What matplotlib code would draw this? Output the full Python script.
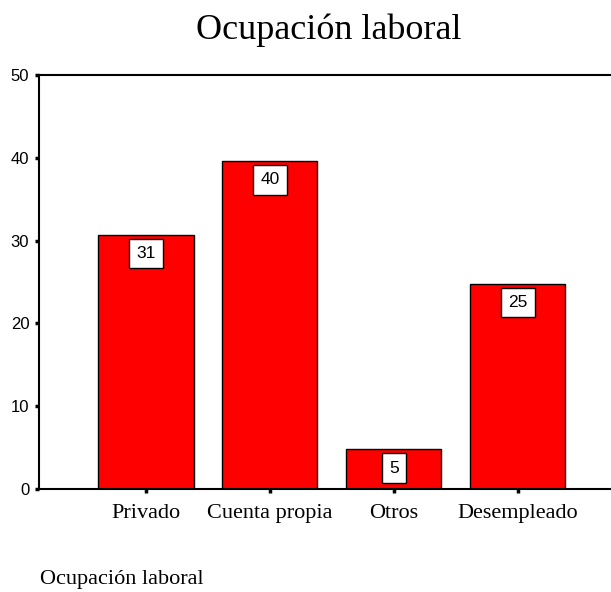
import numpy as np
import matplotlib.pyplot as plt

categorias = ['Privado', 'Cuenta propia', 'Otros', 'Desempleado']
porcentajes = [30.7, 39.6, 4.8, 24.8]
etiquetas = ['31', '40', '5', '25']

fig = plt.figure(figsize=(6.11, 5.92), dpi=100)
ax = fig.add_axes([39/611, 103/592, 1 - 39/611, (489 - 75)/592])

x = np.arange(len(categorias))
bars = ax.bar(x, porcentajes, width=0.77, color='#ff0000', edgecolor='black', linewidth=1.0)

for xi, v, lab in zip(x, porcentajes, etiquetas):
    ax.annotate(lab, (xi, v), xytext=(0, -13.5), textcoords='offset points',
                ha='center', va='center', fontsize=12.5, family='Liberation Sans',
                bbox=dict(boxstyle='square,pad=0.42', fc='white', ec='black', lw=1.0))

ax.set_xlim(-0.861, 3.752)
ax.set_ylim(0, 50)
ax.set_yticks([0, 10, 20, 30, 40, 50])
ax.set_xticks(x)
ax.set_xticklabels(categorias, family='Liberation Serif', fontsize=16)
for t in ax.get_yticklabels():
    t.set_family('Liberation Sans')
    t.set_fontsize(12)

ax.tick_params(axis='y', direction='out', length=3, width=2.5, pad=4)
ax.tick_params(axis='x', direction='out', length=3, width=2.5, pad=8)
ax.spines['right'].set_visible(False)
for s in ['left', 'top', 'bottom']:
    ax.spines[s].set_linewidth(1.5)

fig.text(329/611, 1 - 39/592, 'Ocupación laboral', ha='center', va='baseline',
         family='Liberation Serif', fontsize=26)
fig.text(40/611, 1 - 584/592, 'Ocupación laboral', ha='left', va='baseline',
         family='Liberation Serif', fontsize=16)

fig.savefig('out.png', dpi=100)
